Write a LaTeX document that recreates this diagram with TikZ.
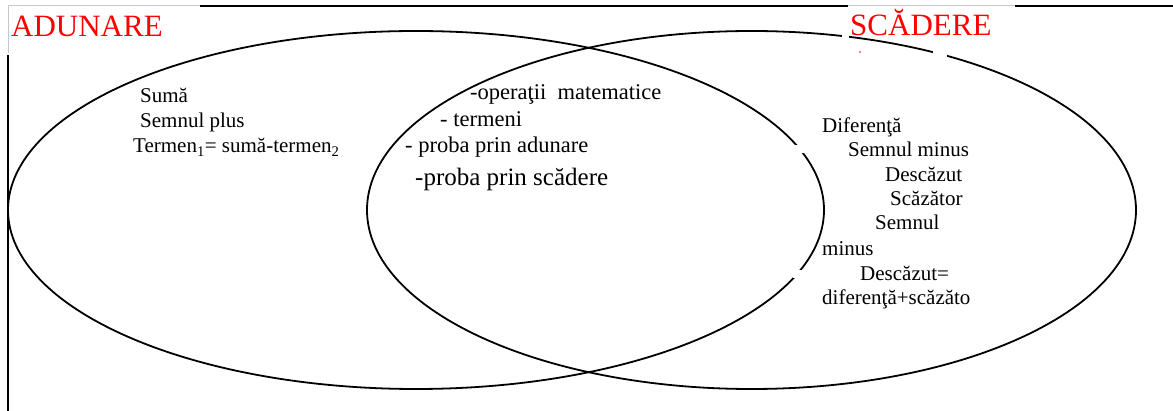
\documentclass[tikz,border=0pt]{standalone}
\usepackage{fontspec}
\setmainfont{Liberation Serif}
\tikzset{
  txt/.style={anchor=base west,inner sep=0pt,font=\fontsize{21}{25}\selectfont},
  txtmij/.style={txt,font=\fontsize{22.5}{26}\selectfont},
  titlu/.style={anchor=base west,inner sep=0pt,text=red,font=\fontsize{31}{36}\selectfont},
  cadru/.style={line width=1.6pt},
  gri/.style={draw=black!22,line width=1pt},
  cerc/.style={line width=1.8pt}
}
\begin{document}
\begin{tikzpicture}[x=1pt,y=-1pt]
\useasboundingbox (0,0) rectangle (1173,411);
% cadrul paginii
\draw[cadru] (8,411) -- (8,55);
\draw[cadru] (200,6) -- (848,6);
\draw[cadru] (1015,6) -- (1173,6);
\draw[gri] (8,53) -- (8,6) -- (200,6);
\draw[gri] (848,6) -- (1015,6);
% cele doua multimi
\coordinate (cadun) at (416,210);
\coordinate (cscad) at (751.5,210);
\draw[cerc] (cadun) ellipse [x radius=408,y radius=179];
\draw[cerc] (cscad) ellipse [x radius=384.5,y radius=179];
\fill[white] (795,145) rectangle (808,153);
\fill[white] (793,270) rectangle (808,278);
\fill[white] (842,30) rectangle (849,40);
\fill[white] (933,47) rectangle (947,58);
\fill[red] (860,52) circle (0.8);
% titluri
\node[titlu] (adunare) at (11,37) {ADUNARE};
\node[titlu] (scadere) at (850,36) {SCĂDERE};
% adunare
\foreach \n/\x/\y/\t in {suma/140/103/Sumă, plus/140/128/Semnul plus,
    termen/133/153/{Termen\textsubscript{1}= sumă-termen\textsubscript{2}}}
  \node[txt] (\n) at (\x,\y) {\t};
% comun
\foreach \n/\x/\y/\t in {oper/470/100/{-operaţii\ \ matematice}, term/440/127/{- termeni},
    pradun/405/153/{- proba prin adunare}}
  \node[txtmij] (\n) at (\x,\y) {\t};
\node[txt,font=\fontsize{25}{30}\selectfont] (prscad) at (415,186) {-proba prin scădere};
% scadere
\foreach \n/\x/\y/\t in {dif/822/133/Diferenţă, minus/848/157/Semnul minus,
    desc/885/182/Descăzut, scaz/890/206/Scăzător, semn/875/230/Semnul,
    minusb/822/256/minus, descb/860/281/Descăzut=, difb/822/305/diferenţă+scăzăto}
  \node[txt] (\n) at (\x,\y) {\t};
\end{tikzpicture}
\end{document}
